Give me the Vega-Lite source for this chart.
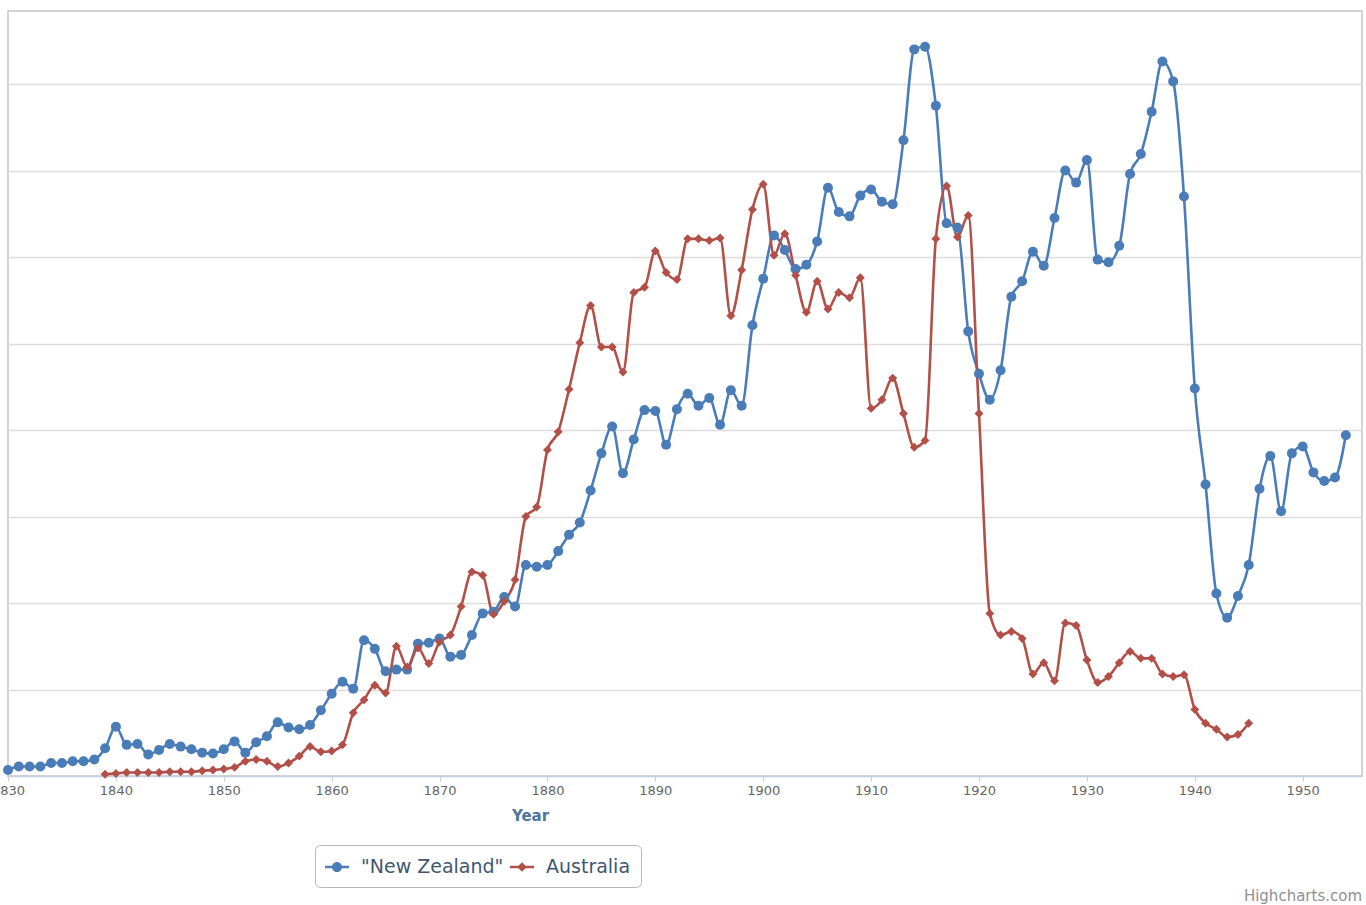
{
"$schema": "https://vega.github.io/schema/vega-lite/v6.json",
"width": 1354, "height": 765,
"autosize": {"type": "none"},
"padding": {"left": 8, "top": 11, "right": 4, "bottom": 129},
"background": "white",
"title": {"text": "Highcharts.com", "orient": "bottom", "anchor": "end", "fontSize": 15, "font": "DejaVu Sans", "fontWeight": "normal", "color": "#909090", "offset": 1},
"data": {"values": [
{"country":"\"New Zealand\"","year":1830,"value":0.7},{"country":"\"New Zealand\"","year":1831,"value":1.1},{"country":"\"New Zealand\"","year":1832,"value":1.1},{"country":"\"New Zealand\"","year":1833,"value":1.1},{"country":"\"New Zealand\"","year":1834,"value":1.5},{"country":"\"New Zealand\"","year":1835,"value":1.5},{"country":"\"New Zealand\"","year":1836,"value":1.7},{"country":"\"New Zealand\"","year":1837,"value":1.7},{"country":"\"New Zealand\"","year":1838,"value":1.9},{"country":"\"New Zealand\"","year":1839,"value":3.2},
{"country":"\"New Zealand\"","year":1840,"value":5.7},{"country":"\"New Zealand\"","year":1841,"value":3.6},{"country":"\"New Zealand\"","year":1842,"value":3.7},{"country":"\"New Zealand\"","year":1843,"value":2.5},{"country":"\"New Zealand\"","year":1844,"value":3.0},{"country":"\"New Zealand\"","year":1845,"value":3.7},{"country":"\"New Zealand\"","year":1846,"value":3.4},{"country":"\"New Zealand\"","year":1847,"value":3.1},{"country":"\"New Zealand\"","year":1848,"value":2.7},{"country":"\"New Zealand\"","year":1849,"value":2.6},
{"country":"\"New Zealand\"","year":1850,"value":3.1},{"country":"\"New Zealand\"","year":1851,"value":4.0},{"country":"\"New Zealand\"","year":1852,"value":2.7},{"country":"\"New Zealand\"","year":1853,"value":3.9},{"country":"\"New Zealand\"","year":1854,"value":4.6},{"country":"\"New Zealand\"","year":1855,"value":6.2},{"country":"\"New Zealand\"","year":1856,"value":5.6},{"country":"\"New Zealand\"","year":1857,"value":5.4},{"country":"\"New Zealand\"","year":1858,"value":5.9},{"country":"\"New Zealand\"","year":1859,"value":7.6},
{"country":"\"New Zealand\"","year":1860,"value":9.5},{"country":"\"New Zealand\"","year":1861,"value":10.9},{"country":"\"New Zealand\"","year":1862,"value":10.1},{"country":"\"New Zealand\"","year":1863,"value":15.7},{"country":"\"New Zealand\"","year":1864,"value":14.7},{"country":"\"New Zealand\"","year":1865,"value":12.1},{"country":"\"New Zealand\"","year":1866,"value":12.3},{"country":"\"New Zealand\"","year":1867,"value":12.3},{"country":"\"New Zealand\"","year":1868,"value":15.3},{"country":"\"New Zealand\"","year":1869,"value":15.4},
{"country":"\"New Zealand\"","year":1870,"value":15.9},{"country":"\"New Zealand\"","year":1871,"value":13.8},{"country":"\"New Zealand\"","year":1872,"value":14.0},{"country":"\"New Zealand\"","year":1873,"value":16.3},{"country":"\"New Zealand\"","year":1874,"value":18.8},{"country":"\"New Zealand\"","year":1875,"value":19.0},{"country":"\"New Zealand\"","year":1876,"value":20.7},{"country":"\"New Zealand\"","year":1877,"value":19.6},{"country":"\"New Zealand\"","year":1878,"value":24.4},{"country":"\"New Zealand\"","year":1879,"value":24.2},
{"country":"\"New Zealand\"","year":1880,"value":24.4},{"country":"\"New Zealand\"","year":1881,"value":26.0},{"country":"\"New Zealand\"","year":1882,"value":27.9},{"country":"\"New Zealand\"","year":1883,"value":29.3},{"country":"\"New Zealand\"","year":1884,"value":33.0},{"country":"\"New Zealand\"","year":1885,"value":37.3},{"country":"\"New Zealand\"","year":1886,"value":40.4},{"country":"\"New Zealand\"","year":1887,"value":35.0},{"country":"\"New Zealand\"","year":1888,"value":38.9},{"country":"\"New Zealand\"","year":1889,"value":42.3},
{"country":"\"New Zealand\"","year":1890,"value":42.2},{"country":"\"New Zealand\"","year":1891,"value":38.3},{"country":"\"New Zealand\"","year":1892,"value":42.4},{"country":"\"New Zealand\"","year":1893,"value":44.2},{"country":"\"New Zealand\"","year":1894,"value":42.8},{"country":"\"New Zealand\"","year":1895,"value":43.7},{"country":"\"New Zealand\"","year":1896,"value":40.6},{"country":"\"New Zealand\"","year":1897,"value":44.6},{"country":"\"New Zealand\"","year":1898,"value":42.8},{"country":"\"New Zealand\"","year":1899,"value":52.1},
{"country":"\"New Zealand\"","year":1900,"value":57.5},{"country":"\"New Zealand\"","year":1901,"value":62.5},{"country":"\"New Zealand\"","year":1902,"value":60.8},{"country":"\"New Zealand\"","year":1903,"value":58.6},{"country":"\"New Zealand\"","year":1904,"value":59.1},{"country":"\"New Zealand\"","year":1905,"value":61.8},{"country":"\"New Zealand\"","year":1906,"value":68.0},{"country":"\"New Zealand\"","year":1907,"value":65.2},{"country":"\"New Zealand\"","year":1908,"value":64.7},{"country":"\"New Zealand\"","year":1909,"value":67.1},
{"country":"\"New Zealand\"","year":1910,"value":67.8},{"country":"\"New Zealand\"","year":1911,"value":66.4},{"country":"\"New Zealand\"","year":1912,"value":66.1},{"country":"\"New Zealand\"","year":1913,"value":73.5},{"country":"\"New Zealand\"","year":1914,"value":84.0},{"country":"\"New Zealand\"","year":1915,"value":84.3},{"country":"\"New Zealand\"","year":1916,"value":77.5},{"country":"\"New Zealand\"","year":1917,"value":63.9},{"country":"\"New Zealand\"","year":1918,"value":63.4},{"country":"\"New Zealand\"","year":1919,"value":51.4},
{"country":"\"New Zealand\"","year":1920,"value":46.5},{"country":"\"New Zealand\"","year":1921,"value":43.5},{"country":"\"New Zealand\"","year":1922,"value":46.9},{"country":"\"New Zealand\"","year":1923,"value":55.4},{"country":"\"New Zealand\"","year":1924,"value":57.2},{"country":"\"New Zealand\"","year":1925,"value":60.6},{"country":"\"New Zealand\"","year":1926,"value":59.0},{"country":"\"New Zealand\"","year":1927,"value":64.5},{"country":"\"New Zealand\"","year":1928,"value":70.0},{"country":"\"New Zealand\"","year":1929,"value":68.6},
{"country":"\"New Zealand\"","year":1930,"value":71.2},{"country":"\"New Zealand\"","year":1931,"value":59.7},{"country":"\"New Zealand\"","year":1932,"value":59.4},{"country":"\"New Zealand\"","year":1933,"value":61.3},{"country":"\"New Zealand\"","year":1934,"value":69.6},{"country":"\"New Zealand\"","year":1935,"value":71.9},{"country":"\"New Zealand\"","year":1936,"value":76.8},{"country":"\"New Zealand\"","year":1937,"value":82.6},{"country":"\"New Zealand\"","year":1938,"value":80.3},{"country":"\"New Zealand\"","year":1939,"value":67.0},
{"country":"\"New Zealand\"","year":1940,"value":44.8},{"country":"\"New Zealand\"","year":1941,"value":33.7},{"country":"\"New Zealand\"","year":1942,"value":21.1},{"country":"\"New Zealand\"","year":1943,"value":18.3},{"country":"\"New Zealand\"","year":1944,"value":20.8},{"country":"\"New Zealand\"","year":1945,"value":24.4},{"country":"\"New Zealand\"","year":1946,"value":33.2},{"country":"\"New Zealand\"","year":1947,"value":37.0},{"country":"\"New Zealand\"","year":1948,"value":30.6},{"country":"\"New Zealand\"","year":1949,"value":37.3},
{"country":"\"New Zealand\"","year":1950,"value":38.1},{"country":"\"New Zealand\"","year":1951,"value":35.1},{"country":"\"New Zealand\"","year":1952,"value":34.1},{"country":"\"New Zealand\"","year":1953,"value":34.5},{"country":"\"New Zealand\"","year":1954,"value":39.4},
{"country":"Australia","year":1839,"value":0.2},
{"country":"Australia","year":1840,"value":0.3},{"country":"Australia","year":1841,"value":0.4},{"country":"Australia","year":1842,"value":0.4},{"country":"Australia","year":1843,"value":0.4},{"country":"Australia","year":1844,"value":0.4},{"country":"Australia","year":1845,"value":0.5},{"country":"Australia","year":1846,"value":0.5},{"country":"Australia","year":1847,"value":0.5},{"country":"Australia","year":1848,"value":0.6},{"country":"Australia","year":1849,"value":0.7},
{"country":"Australia","year":1850,"value":0.8},{"country":"Australia","year":1851,"value":1.0},{"country":"Australia","year":1852,"value":1.7},{"country":"Australia","year":1853,"value":1.9},{"country":"Australia","year":1854,"value":1.7},{"country":"Australia","year":1855,"value":1.1},{"country":"Australia","year":1856,"value":1.5},{"country":"Australia","year":1857,"value":2.3},{"country":"Australia","year":1858,"value":3.4},{"country":"Australia","year":1859,"value":2.8},
{"country":"Australia","year":1860,"value":2.9},{"country":"Australia","year":1861,"value":3.6},{"country":"Australia","year":1862,"value":7.3},{"country":"Australia","year":1863,"value":8.8},{"country":"Australia","year":1864,"value":10.5},{"country":"Australia","year":1865,"value":9.6},{"country":"Australia","year":1866,"value":15.0},{"country":"Australia","year":1867,"value":12.6},{"country":"Australia","year":1868,"value":14.8},{"country":"Australia","year":1869,"value":13.0},
{"country":"Australia","year":1870,"value":15.5},{"country":"Australia","year":1871,"value":16.3},{"country":"Australia","year":1872,"value":19.6},{"country":"Australia","year":1873,"value":23.6},{"country":"Australia","year":1874,"value":23.2},{"country":"Australia","year":1875,"value":18.7},{"country":"Australia","year":1876,"value":20.2},{"country":"Australia","year":1877,"value":22.7},{"country":"Australia","year":1878,"value":30.0},{"country":"Australia","year":1879,"value":31.1},
{"country":"Australia","year":1880,"value":37.7},{"country":"Australia","year":1881,"value":39.8},{"country":"Australia","year":1882,"value":44.7},{"country":"Australia","year":1883,"value":50.1},{"country":"Australia","year":1884,"value":54.4},{"country":"Australia","year":1885,"value":49.6},{"country":"Australia","year":1886,"value":49.6},{"country":"Australia","year":1887,"value":46.7},{"country":"Australia","year":1888,"value":55.9},{"country":"Australia","year":1889,"value":56.5},
{"country":"Australia","year":1890,"value":60.7},{"country":"Australia","year":1891,"value":58.2},{"country":"Australia","year":1892,"value":57.4},{"country":"Australia","year":1893,"value":62.1},{"country":"Australia","year":1894,"value":62.1},{"country":"Australia","year":1895,"value":61.9},{"country":"Australia","year":1896,"value":62.2},{"country":"Australia","year":1897,"value":53.2},{"country":"Australia","year":1898,"value":58.5},{"country":"Australia","year":1899,"value":65.5},
{"country":"Australia","year":1900,"value":68.4},{"country":"Australia","year":1901,"value":60.2},{"country":"Australia","year":1902,"value":62.7},{"country":"Australia","year":1903,"value":57.9},{"country":"Australia","year":1904,"value":53.6},{"country":"Australia","year":1905,"value":57.2},{"country":"Australia","year":1906,"value":54.0},{"country":"Australia","year":1907,"value":55.9},{"country":"Australia","year":1908,"value":55.3},{"country":"Australia","year":1909,"value":57.6},
{"country":"Australia","year":1910,"value":42.5},{"country":"Australia","year":1911,"value":43.5},{"country":"Australia","year":1912,"value":46.0},{"country":"Australia","year":1913,"value":41.9},{"country":"Australia","year":1914,"value":38.0},{"country":"Australia","year":1915,"value":38.8},{"country":"Australia","year":1916,"value":62.1},{"country":"Australia","year":1917,"value":68.2},{"country":"Australia","year":1918,"value":62.3},{"country":"Australia","year":1919,"value":64.8},
{"country":"Australia","year":1920,"value":41.9},{"country":"Australia","year":1921,"value":18.8},{"country":"Australia","year":1922,"value":16.3},{"country":"Australia","year":1923,"value":16.7},{"country":"Australia","year":1924,"value":15.9},{"country":"Australia","year":1925,"value":11.8},{"country":"Australia","year":1926,"value":13.1},{"country":"Australia","year":1927,"value":11.0},{"country":"Australia","year":1928,"value":17.7},{"country":"Australia","year":1929,"value":17.4},
{"country":"Australia","year":1930,"value":13.4},{"country":"Australia","year":1931,"value":10.8},{"country":"Australia","year":1932,"value":11.5},{"country":"Australia","year":1933,"value":13.1},{"country":"Australia","year":1934,"value":14.4},{"country":"Australia","year":1935,"value":13.6},{"country":"Australia","year":1936,"value":13.6},{"country":"Australia","year":1937,"value":11.8},{"country":"Australia","year":1938,"value":11.5},{"country":"Australia","year":1939,"value":11.7},
{"country":"Australia","year":1940,"value":7.7},{"country":"Australia","year":1941,"value":6.1},{"country":"Australia","year":1942,"value":5.4},{"country":"Australia","year":1943,"value":4.5},{"country":"Australia","year":1944,"value":4.8},{"country":"Australia","year":1945,"value":6.1}
]},
"encoding": {
  "x": {"field": "year", "type": "quantitative",
    "scale": {"domain": [1830, 1955.5], "nice": false, "zero": false},
    "axis": {"title": "Year", "values": [1830,1840,1850,1860,1870,1880,1890,1900,1910,1920,1930,1940,1950], "format": "d", "grid": false,
      "domainColor": "#c0d0e0", "domainWidth": 1.5, "tickColor": "#c0d0e0", "tickSize": 5, "tickWidth": 1,
      "labelColor": "#666666", "labelFontSize": 13, "labelFont": "DejaVu Sans", "labelPadding": 3, "labelFlush": false, "labelOverlap": false,
      "titleColor": "#4d759e", "titleFontSize": 15, "titleFont": "DejaVu Sans", "titleFontWeight": "bold", "titleX": 522, "titleY": 44, "titleBaseline": "alphabetic", "titleAlign": "center"}},
  "y": {"field": "value", "type": "quantitative",
    "scale": {"domain": [0, 88.44], "nice": false, "zero": true},
    "axis": {"title": null, "labels": false, "ticks": false, "domain": false, "grid": true, "gridColor": "#dcdcdc", "gridWidth": 1.5, "values": [10,20,30,40,50,60,70,80]}},
  "color": {"field": "country", "type": "nominal",
    "scale": {"domain": ["\"New Zealand\"", "Australia"], "range": ["#4a7db8", "#b24f48"]},
    "legend": {"orient": "none", "legendX": 307, "legendY": 834, "direction": "horizontal", "title": null,
      "strokeColor": "#b8b8b8", "cornerRadius": 5, "padding": 10, "fillColor": "white",
      "labelFont": "DejaVu Sans", "labelFontSize": 19, "labelColor": "#3e576f",
      "symbolSize": 576, "symbolStrokeWidth": 0, "symbolOpacity": 1, "labelOffset": 12, "columnPadding": 6}}
},
"layer": [
  {"mark": {"type": "line", "strokeWidth": 2.6, "interpolate": "monotone"}},
  {"transform": [{"filter": "datum.country !== 'Australia'"}],
   "mark": {"type": "point", "filled": true, "shape": "circle", "size": 100, "opacity": 1}},
  {"transform": [{"filter": "datum.country === 'Australia'"}],
   "mark": {"type": "point", "filled": true, "shape": "diamond", "size": 80, "opacity": 1}},
  {"mark": {"type": "point", "filled": true, "size": 0, "opacity": 1},
   "encoding": {
     "shape": {"field": "country", "type": "nominal", "legend": null,
       "scale": {"domain": ["\"New Zealand\"", "Australia"],
                 "range": ["M-1,-0.1H1V0.1H-1ZM-0.42,0A0.42,0.42 0 1,1 0.42,0A0.42,0.42 0 1,1 -0.42,0Z", "M-1,-0.1H1V0.1H-1ZM-0.4,0L0,-0.4L0.4,0L0,0.4Z"]}}}}
],
"config": {"view": {"stroke": "#d4d4d4", "strokeWidth": 2}, "font": "DejaVu Sans"}
}
